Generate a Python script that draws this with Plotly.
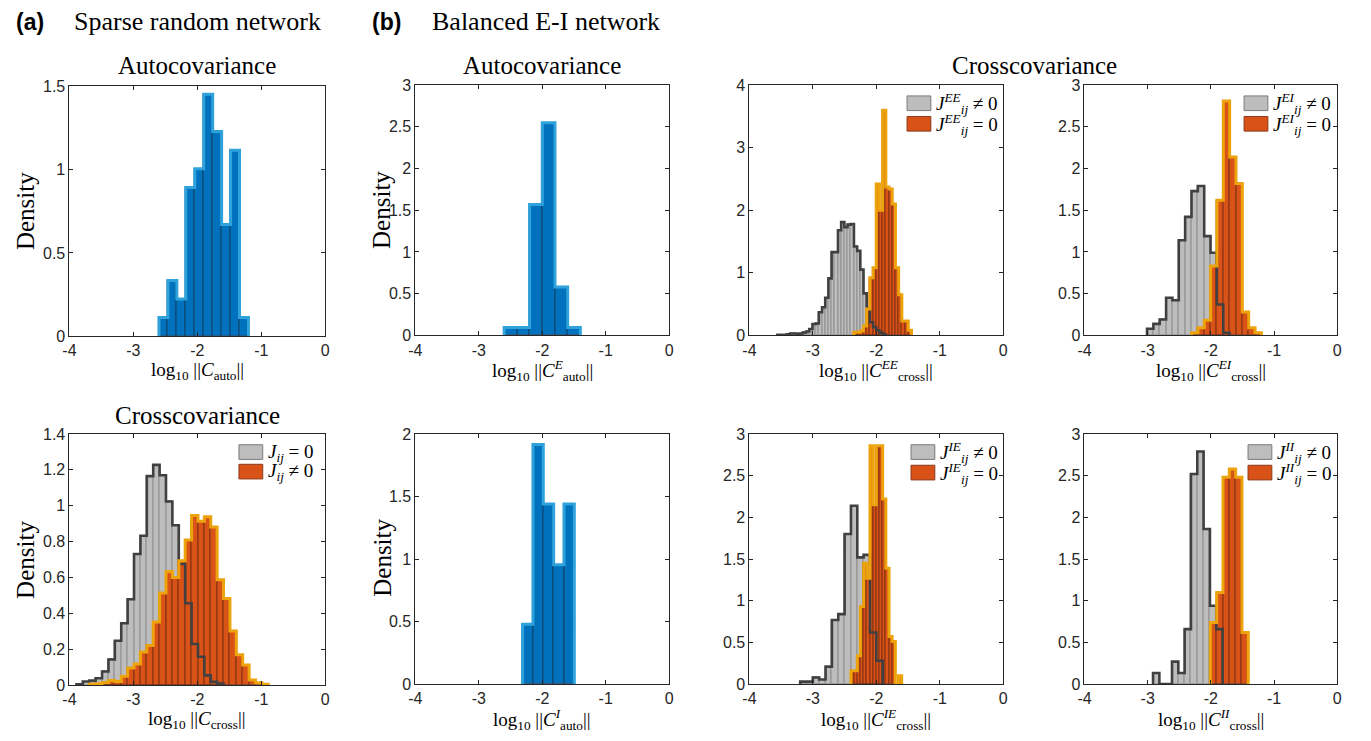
import numpy as np
import plotly.graph_objects as go

# ---------------- data ----------------
# Panel (a) sparse random network
a_auto_start, a_auto_binw = -2.60, 0.14
a_auto_density = [0.112, 0.335, 0.223, 0.893, 1.004, 1.451, 1.228, 0.670, 1.116, 0.112]

a_cross_unc_start, a_cross_unc_binw = -3.89, 0.10   # J_ij = 0 (grey)
a_cross_unc_density = [0.005, 0.020, 0.025, 0.038, 0.076, 0.143, 0.247, 0.345, 0.479, 0.731,
                       0.833, 1.165, 1.228, 1.170, 1.024, 0.891, 0.675, 0.456, 0.229, 0.158,
                       0.054, 0.018, 0.009]
a_cross_con_start, a_cross_con_binw = -3.69, 0.10   # J_ij != 0 (orange)
a_cross_con_density = [0.005, 0.008, 0.015, 0.025, 0.020, 0.049, 0.096, 0.118, 0.185, 0.221,
                       0.352, 0.514, 0.633, 0.600, 0.693, 0.809, 0.946, 0.913, 0.938, 0.882,
                       0.588, 0.483, 0.301, 0.169, 0.112, 0.029, 0.013, 0.005]

# Panel (b) balanced E-I network
e_auto_start, e_auto_binw = -2.60, 0.20
e_auto_density = [0.094, 0.094, 1.57, 2.55, 0.58, 0.094]
i_auto_start, i_auto_binw = -2.31, 0.163
i_auto_density = [0.478, 1.917, 1.441, 0.954, 1.441]

ee_con_start, ee_con_binw = -3.56, 0.0503   # J^EE != 0 (grey)
ee_con_density = [0.010, 0.005, 0.010, 0.015, 0.030, 0.030, 0.025, 0.030, 0.045, 0.060,
                  0.10, 0.18, 0.19, 0.37, 0.45, 0.60, 0.91, 1.33, 1.33, 1.68,
                  1.81, 1.73, 1.77, 1.78, 1.42, 1.35, 1.05, 0.67, 0.44, 0.21,
                  0.13, 0.08, 0.04, 0.015]
ee_unc_start, ee_unc_binw = -2.355, 0.0505  # J^EE = 0 (orange)
ee_unc_density = [0.05, 0.05, 0.07, 0.15, 0.42, 0.92, 1.08, 2.42, 2.00, 3.60,
                  2.37, 2.34, 2.10, 1.08, 0.65, 0.23, 0.23, 0.08]

ei_con_start, ei_con_binw = -3.01, 0.1005
ei_con_density = [0.078, 0.137, 0.19, 0.45, 0.42, 1.14, 1.42, 1.73, 1.79, 1.19, 0.99, 0.37, 0.03]
ei_unc_start, ei_unc_binw = -2.306, 0.1005
ei_unc_density = [0.03, 0.09, 0.18, 0.83, 1.62, 2.81, 2.14, 1.82, 0.28, 0.09, 0.03]

ie_con_start, ie_con_binw = -3.20, 0.10
ie_con_density = [0.03, 0.03, 0.08, 0.055, 0.21, 0.77, 0.84, 1.80, 2.14, 1.52, 1.55, 0.62, 0.28]
ie_unc_start, ie_unc_binw = -2.40, 0.05
ie_unc_density = [0.16, 0.16, 0.34, 0.93, 1.45, 1.27, 2.86, 2.15, 2.86, 2.86,
                  2.22, 1.39, 0.57, 0.51, 0.0, 0.10]

ii_con_start, ii_con_binw = -2.915, 0.10
ii_con_density = [0.133, 0.0, 0.0, 0.27, 0.133, 0.66, 2.52, 2.79, 1.86, 0.94, 0.66]
ii_unc_start, ii_unc_binw = -2.008, 0.10
ii_unc_density = [0.74, 1.10, 2.48, 2.58, 2.48, 0.62]

x_ticks = [-4, -3, -2, -1, 0]
x_ticktext = ["-4", "-3", "-2", "-1", "0"]

# ---------------- styling ----------------
W, H = 1371, 741
SERIF = "Liberation Serif, Times New Roman, serif"
SANS = "Liberation Sans, Arial, sans-serif"
AXC = "#262626"

BLUE = dict(fill="#0072BD", edge="#15395a", out="#2fa2dc", ow=3.0)
GREY = dict(fill="#BDBDBD", edge="#858585", out="#404040", ow=2.6)
ORNG = dict(fill="#D95319", edge="#6e2810", out="#EDA30C", ow=3.0)


def PX(x):
    return x / W


def PY(y):
    return 1 - y / H


fig = go.Figure()


def edges_of(start, binw, n):
    return np.round(start + binw * np.arange(n + 1), 5)


def add_hist(idx, start, binw, dens, sty):
    n = len(dens)
    e = edges_of(start, binw, n)
    centers = (e[:-1] + e[1:]) / 2
    ax = "" if idx == 1 else str(idx)
    fig.add_trace(go.Bar(x=centers, y=dens, width=[binw] * n, opacity=1,
                         marker=dict(color=sty["fill"], line=dict(color=sty["edge"], width=0.8)),
                         xaxis="x" + ax, yaxis="y" + ax, showlegend=False, hoverinfo="skip"))


def add_outline(idx, start, binw, dens, sty):
    n = len(dens)
    e = edges_of(start, binw, n)
    xs = [e[0]] + list(e[:-1]) + [e[-1], e[-1]]
    ys = [0] + list(dens) + [dens[-1], 0]
    ax = "" if idx == 1 else str(idx)
    fig.add_trace(go.Scatter(x=xs, y=ys, mode="lines", line=dict(color=sty["out"], width=sty["ow"], shape="hv"),
                             xaxis="x" + ax, yaxis="y" + ax, showlegend=False, hoverinfo="skip"))


# single histograms
add_hist(1, a_auto_start, a_auto_binw, a_auto_density, BLUE)
add_outline(1, a_auto_start, a_auto_binw, a_auto_density, BLUE)
add_hist(2, e_auto_start, e_auto_binw, e_auto_density, BLUE)
add_outline(2, e_auto_start, e_auto_binw, e_auto_density, BLUE)
add_hist(6, i_auto_start, i_auto_binw, i_auto_density, BLUE)
add_outline(6, i_auto_start, i_auto_binw, i_auto_density, BLUE)

# paired histograms
pairs = [
    (5, (a_cross_unc_start, a_cross_unc_binw, a_cross_unc_density),
        (a_cross_con_start, a_cross_con_binw, a_cross_con_density)),
    (3, (ee_con_start, ee_con_binw, ee_con_density), (ee_unc_start, ee_unc_binw, ee_unc_density)),
    (4, (ei_con_start, ei_con_binw, ei_con_density), (ei_unc_start, ei_unc_binw, ei_unc_density)),
    (7, (ie_con_start, ie_con_binw, ie_con_density), (ie_unc_start, ie_unc_binw, ie_unc_density)),
    (8, (ii_con_start, ii_con_binw, ii_con_density), (ii_unc_start, ii_unc_binw, ii_unc_density)),
]
for idx, g, o in pairs:
    add_hist(idx, *g, GREY)
    add_hist(idx, *o, ORNG)
    add_outline(idx, *g, GREY)
    add_outline(idx, *o, ORNG)

# ---------------- axes ----------------
boxes = {
    1: (63, 321, 80, 336),
    2: (412, 668, 79, 335),
    3: (749, 1005, 79, 335),
    4: (1087, 1342, 79, 335),
    5: (63, 321, 436, 693),
    6: (412, 668, 436, 692),
    7: (749, 1005, 436, 692),
    8: (1087, 1342, 436, 692),
}
yinfo = {
    1: (1.5, [0, 0.5, 1, 1.5], ["0", "0.5", "1", "1.5"]),
    2: (3, [0, 0.5, 1, 1.5, 2, 2.5, 3], ["0", "0.5", "1", "1.5", "2", "2.5", "3"]),
    3: (4, [0, 1, 2, 3, 4], ["0", "1", "2", "3", "4"]),
    4: (3, [0, 0.5, 1, 1.5, 2, 2.5, 3], ["0", "0.5", "1", "1.5", "2", "2.5", "3"]),
    5: (1.4, [0, 0.2, 0.4, 0.6, 0.8, 1, 1.2, 1.4], ["0", "0.2", "0.4", "0.6", "0.8", "1", "1.2", "1.4"]),
    6: (2, [0, 0.5, 1, 1.5, 2], ["0", "0.5", "1", "1.5", "2"]),
    7: (3, [0, 0.5, 1, 1.5, 2, 2.5, 3], ["0", "0.5", "1", "1.5", "2", "2.5", "3"]),
    8: (3, [0, 0.5, 1, 1.5, 2, 2.5, 3], ["0", "0.5", "1", "1.5", "2", "2.5", "3"]),
}
common = dict(showline=True, linecolor=AXC, linewidth=1, mirror="ticks", ticks="inside",
              ticklen=4, tickcolor=AXC, tickwidth=1, showgrid=False, zeroline=False,
              tickfont=dict(family=SANS, size=16, color=AXC), fixedrange=True)
layout_axes = {}
for i, (x0, x1, y0, y1) in boxes.items():
    s = "" if i == 1 else str(i)
    ymax, yv, yt = yinfo[i]
    layout_axes["xaxis" + s] = dict(domain=[PX(x0), PX(x1)], range=[-4, 0], anchor="y" + s,
                                    tickvals=x_ticks, ticktext=x_ticktext, **common)
    layout_axes["yaxis" + s] = dict(domain=[PY(y1), PY(y0)], range=[0, ymax], anchor="x" + s,
                                    tickvals=yv, ticktext=yt, **common)

fig.update_layout(**layout_axes)

# ---------------- text ----------------
ann = []


def text(x, y, t, size, family=SERIF, xanchor="center", angle=0, color="black"):
    ann.append(dict(x=PX(x), y=PY(y), xref="paper", yref="paper", text=t, showarrow=False,
                    xanchor=xanchor, yanchor="middle", textangle=angle,
                    font=dict(family=family, size=size, color=color)))


text(7, 14, "<b>(a)</b>", 23, family=SANS, xanchor="left")
text(66, 14, "Sparse random network", 26, xanchor="left")
text(366, 14, "<b>(b)</b>", 23, family=SANS, xanchor="left")
text(427, 14, "Balanced E-I network", 26, xanchor="left")

text(192, 59, "Autocovariance", 25)
text(540, 59, "Autocovariance", 25)
text(1037, 59, "Crosscovariance", 25)
text(192, 417, "Crosscovariance", 25)

for xc, yc in [(18, 208), (378, 207), (18, 565), (378, 563)]:
    text(xc, yc, "Density", 25, angle=-90)

L10 = "log<sub>10</sub> ||"
xt = {
    1: L10 + "<i>C</i><sub>auto</sub>||",
    2: L10 + "<i>C</i><sup><i>E</i></sup><sub>auto</sub>||",
    3: L10 + "<i>C</i><sup><i>EE</i></sup><sub>cross</sub>||",
    4: L10 + "<i>C</i><sup><i>EI</i></sup><sub>cross</sub>||",
    5: L10 + "<i>C</i><sub>cross</sub>||",
    6: L10 + "<i>C</i><sup><i>I</i></sup><sub>auto</sub>||",
    7: L10 + "<i>C</i><sup><i>IE</i></sup><sub>cross</sub>||",
    8: L10 + "<i>C</i><sup><i>II</i></sup><sub>cross</sub>||",
}
for i, (x0, x1, y0, y1) in boxes.items():
    text((x0 + x1) / 2, y1 + 36, xt[i], 19)

# legends (patch + label)
shapes = []


def legend_item(px0, py0, sty, label):
    shapes.append(dict(type="rect", xref="paper", yref="paper", x0=PX(px0), x1=PX(px0 + 24),
                       y0=PY(py0 + 15), y1=PY(py0), fillcolor=sty["fill"],
                       line=dict(color=sty["lc"], width=1)))
    text(px0 + 27, py0 + 8, label, 19, xanchor="left")


GL = dict(fill="#BDBDBD", lc="#7a7a7a")
OL = dict(fill="#D95319", lc="#8a3a1a")


def jlab(sup, rel):
    if sup:
        return "<i>J</i><sup><i>%s</i></sup><sub><i>ij</i></sub> %s 0" % (sup, rel)
    return "<i>J</i><sub><i>ij</i></sub> %s 0" % rel


legend_item(234, 447, GL, jlab("", "="))
legend_item(234, 467, OL, jlab("", "≠"))
for (px0, py0), sup in [((908, 90), "EE"), ((1248, 90), "EI"), ((912, 447), "IE"), ((1252, 447), "II")]:
    legend_item(px0, py0, GL, jlab(sup, "≠"))
    legend_item(px0, py0 + 21, OL, jlab(sup, "="))

fig.update_layout(width=W, height=H, autosize=False, margin=dict(l=0, r=0, t=0, b=0),
                  paper_bgcolor="white", plot_bgcolor="white", barmode="overlay", bargap=0,
                  annotations=ann, shapes=shapes, showlegend=False)

fig.write_html("out.html")
